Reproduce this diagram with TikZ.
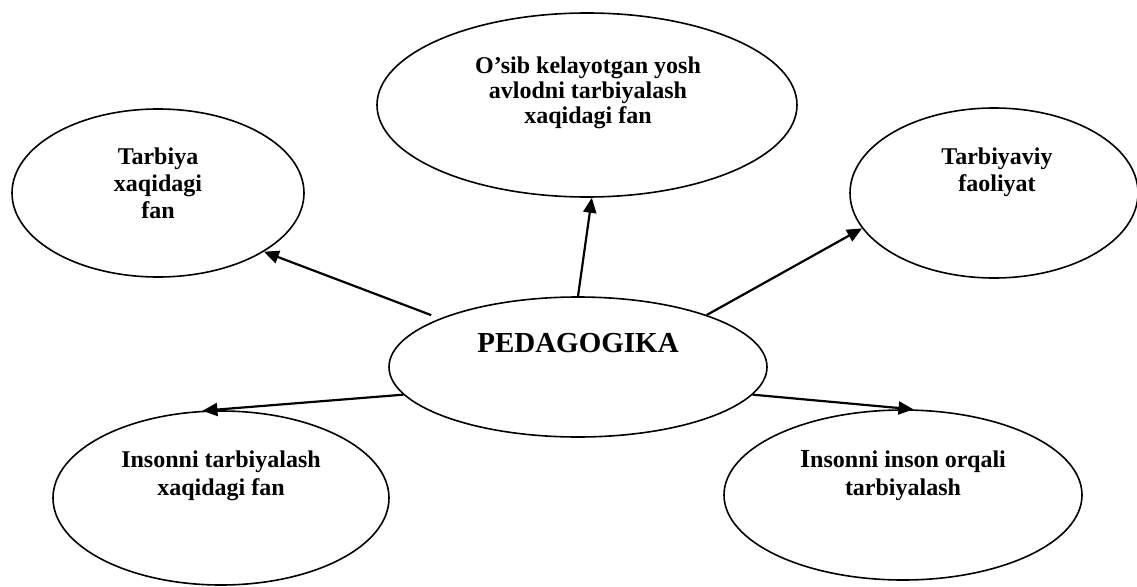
\documentclass[tikz,border=0pt]{standalone}
\usepackage{fontspec}
\setmainfont{Liberation Serif}
\usetikzlibrary{arrows.meta,shapes.geometric}
\begin{document}
\begin{tikzpicture}[x=1pt,y=-1pt,
  oval/.style={draw, ellipse, line width=1.6pt, inner sep=0pt},
  lbl/.style={align=center, inner sep=0pt, font=\fontsize{24}{27}\selectfont\bfseries},
  link/.style={line width=2.2pt, -{Triangle[length=15pt,width=13pt]}}]
\useasboundingbox (0,0) rectangle (1137,586);
% ellipses
\node[oval, minimum width=420pt, minimum height=184pt] (top) at (587,105) {};
\node[oval, minimum width=292pt, minimum height=168pt] (left) at (158,193) {};
\node[oval, minimum width=288pt, minimum height=170pt] (right) at (994,193) {};
\node[oval, minimum width=378pt, minimum height=140pt] (ped) at (578,367) {};
\node[oval, minimum width=336pt, minimum height=174pt] (bl) at (221,498) {};
\node[oval, minimum width=358pt, minimum height=170pt] (br) at (903,495) {};
% texts
\node[lbl, font=\fontsize{24}{25}\selectfont\bfseries] (topt) at (588,92.5) {O’sib kelayotgan yosh\\avlodni tarbiyalash\\xaqidagi fan};
\node[lbl] (leftt) at (158,183) {Tarbiya\\xaqidagi\\fan};
\node[lbl] (rightt) at (997,172) {Tarbiyaviy\\faoliyat};
\node[inner sep=0pt, font=\fontsize{29}{32}\selectfont\bfseries] (pedt) at (578,343) {PEDAGOGIKA};
\node[lbl, font=\fontsize{24}{28}\selectfont\bfseries] (blt) at (221,475.5) {Insonni tarbiyalash\\xaqidagi fan};
\node[lbl, font=\fontsize{24}{28}\selectfont\bfseries] (brt) at (903,475.5) {{\fontsize{26}{28}\selectfont I}nsonni inson orqali\\tarbiyalash};
% arrows
\draw[link] ([yshift=7pt]ped.163) -- (left.-29.3);
\draw[link] (ped.90) -- (top.-87);
\draw[link] (ped.22.3) -- (right.-165);
\draw[link] (ped.189.1) -- (bl.102.3);
\draw[link] (ped.-9.1) -- (br.83.2);
\end{tikzpicture}
\end{document}
